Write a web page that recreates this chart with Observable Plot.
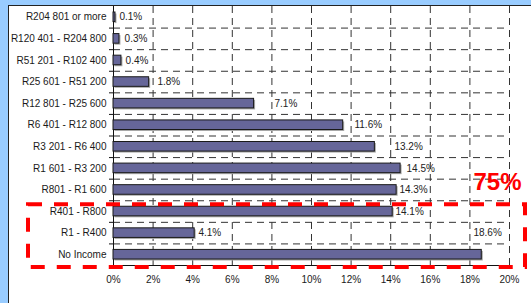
<!DOCTYPE html>
<html>
<head>
<meta charset="utf-8">
<script src="https://cdn.jsdelivr.net/npm/d3@7"></script>
<script src="https://cdn.jsdelivr.net/npm/@observablehq/plot@0.6"></script>
<style>
  html, body { margin: 0; padding: 0; }
  #wrap { position: relative; width: 531px; height: 303px; background: #99ccff; overflow: hidden; font-family: "Liberation Sans", Arial, sans-serif; }
  #panel { position: absolute; left: 8px; top: 5px; width: 523px; height: 298px; background: #ffffff; border-left: 1px solid #222; border-top: 1px solid #222; box-sizing: border-box; }
  #chart { position: absolute; left: 0; top: 0; }
</style>
</head>
<body>
<div id="wrap"><div id="panel"></div><div id="chart"></div></div>
<script>
// Income categories, top to bottom
const categories = [
  "R204 801 or more",
  "R120 401 - R204 800",
  "R51 201 - R102 400",
  "R25 601 - R51 200",
  "R12 801 - R25 600",
  "R6 401 - R12 800",
  "R3 201 - R6 400",
  "R1 601 - R3 200",
  "R801 - R1 600",
  "R401 - R800",
  "R1 - R400",
  "No Income"
];
// Share of population (%)
const values = [0.1, 0.3, 0.4, 1.8, 7.1, 11.6, 13.2, 14.5, 14.3, 14.1, 4.1, 18.6];
// Value labels as printed, and where the original placed them (in % units / row index)
const valueLabels = ["0.1%", "0.3%", "0.4%", "1.8%", "7.1%", "11.6%", "13.2%", "14.5%", "14.3%", "14.1%", "4.1%", "18.6%"];
const labelAt = [0.3, 0.56, 0.61, 2.22, 8.13, 12.17, 14.19, 14.8, 14.44, 14.24, 4.29, 18.18];
const labelRow = [0, 1, 2, 3, 4, 5, 6, 7, 8, 9, 10, 10];
// x-axis ticks
const xTicks = [0, 2, 4, 6, 8, 10, 12, 14, 16, 18, 20];
// Highlighted group
const highlightFrom = "R401 - R800";
const highlightText = "75%";

const data = categories.map((c, i) => ({cat: c, i, value: values[i]}));
const labels = valueLabels.map((t, i) => ({t, x: labelAt[i], row: labelRow[i]}));
const hi = categories.indexOf(highlightFrom);

const dash = "7,5";
const chart = Plot.plot({
  width: 531,
  height: 303,
  marginLeft: 113,
  marginRight: 22,
  marginTop: 6,
  marginBottom: 38,
  style: {background: "transparent", fontFamily: "'Liberation Sans', Arial, sans-serif", fontSize: "10px", color: "#1a1a1a"},
  x: {domain: [0, 20]},
  y: {domain: [0, categories.length], reverse: true},
  marks: [
    Plot.ruleX(xTicks.slice(1), {stroke: "#333", strokeOpacity: 1, strokeWidth: 1, strokeDasharray: dash}),
    Plot.ruleY(d3.range(1, categories.length), {x1: 0, x2: 20, stroke: "#333", strokeWidth: 1, strokeDasharray: dash}),
    Plot.ruleX([0], {stroke: "#111", strokeWidth: 1}),
    Plot.ruleY([categories.length], {stroke: "#111", strokeWidth: 1}),
    Plot.axisY({ticks: d3.range(1, categories.length), tickSize: 4, tickFormat: () => "", stroke: "#111"}),
    Plot.axisY({ticks: categories.map((c, i) => i + 0.5), tickFormat: d => categories[Math.round(d - 0.5)], tickSize: 0, tickPadding: 7, fontSize: 10}),
    Plot.axisX({ticks: xTicks, tickFormat: d => d + "%", tickSize: 0, tickPadding: 10, fontSize: 10}),
    Plot.rect(data, {x1: 0, x2: "value", y1: d => d.i, y2: d => d.i + 1, insetTop: 6, insetBottom: 6, dx: 1.5, dy: 1.5, fill: "#a8a8a8"}),
    Plot.rect(data, {x1: 0, x2: "value", y1: d => d.i, y2: d => d.i + 1, insetTop: 6, insetBottom: 6, fill: "#666699", stroke: "#1a1a1a", strokeWidth: 1}),
    Plot.text(labels, {x: "x", y: d => d.row + 0.5, text: "t", textAnchor: "start", fontSize: 10, fill: "#222"}),
    Plot.rect([0], {x1: 0, x2: 20, y1: hi, y2: categories.length, insetLeft: -85, insetRight: -16, insetTop: 4, insetBottom: -2, fill: "none", stroke: "#ff0000", strokeWidth: 4, strokeDasharray: "14,12"}),
    Plot.text([highlightText], {x: 20, y: hi - 0.5, dx: -12, dy: -8, text: d => d, fontSize: 24, fontWeight: "bold", fill: "#ff0000", textAnchor: "middle"})
  ]
});
document.getElementById("chart").appendChild(chart);
</script>
</body>
</html>
